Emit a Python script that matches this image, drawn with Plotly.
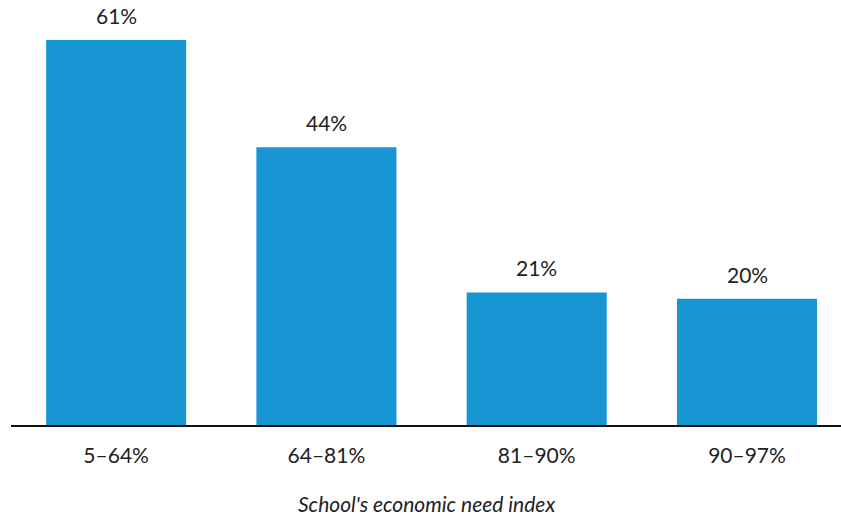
import plotly.graph_objects as go

categories = ["5–64%", "64–81%", "81–90%", "90–97%"]
values = [61, 44, 21, 20]
labels = ["61%", "44%", "21%", "20%"]
x_title = "School's economic need index"

fig = go.Figure()
fig.add_trace(go.Bar(
    x=categories, y=values,
    marker=dict(color="#1896d3", line=dict(width=0)),
    hoverinfo="skip",
))
for c, v, t in zip(categories, values, labels):
    fig.add_annotation(x=c, y=v, text=t, showarrow=False, yanchor="bottom",
                       yshift=10, font=dict(family="Lato", size=21, color="#222"))

fig.add_annotation(xref="paper", yref="paper", x=0.5, y=0, yanchor="middle",
                   yshift=-78, text=f"<i>{x_title}</i>", showarrow=False,
                   font=dict(family="Lato", size=21, color="#222"))

fig.update_layout(
    width=841, height=518,
    margin=dict(l=11, r=0, t=0, b=93),
    paper_bgcolor="white", plot_bgcolor="white",
    bargap=0.334,
    showlegend=False,
    font=dict(family="Lato", size=21, color="#222"),
    xaxis=dict(range=[-0.5, 3.447], showline=True, linecolor="#111", linewidth=2,
               ticks="outside", ticklen=11, tickcolor="rgba(0,0,0,0)",
               showgrid=False, zeroline=False,
               tickfont=dict(family="Lato", size=21, color="#222")),
    yaxis=dict(range=[0, 67.35], visible=False, showgrid=False, zeroline=False),
)
fig.write_html("out.html", config={"displayModeBar": False},
               post_script="document.body.style.margin='0';document.body.style.overflow='hidden';")
